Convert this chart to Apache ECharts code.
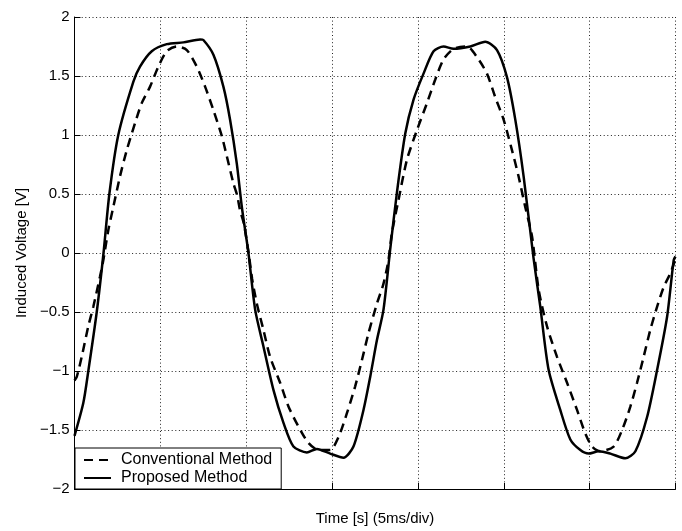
<!DOCTYPE html>
<html>
<head>
<meta charset="utf-8">
<script src="https://cdn.jsdelivr.net/npm/echarts@6/dist/echarts.min.js"></script>
<style>
html,body{margin:0;padding:0;background:#fff;}
#chart{width:682px;height:531px;}
</style>
</head>
<body>
<div id="chart"></div>
<script>
// Time in divisions (5 ms/div), voltage in V
var proposedTime = [0, 0.103, 0.161, 0.259, 0.338, 0.406, 0.510, 0.685, 0.763, 0.900, 1.075, 1.268, 1.463, 1.501, 1.618, 1.734, 1.812, 1.890, 1.949, 2.026, 2.104, 2.200, 2.317, 2.434, 2.550, 2.706, 2.823, 2.978, 3.133, 3.249, 3.366, 3.444, 3.522, 3.599, 3.677, 3.755, 3.852, 3.949, 4.065, 4.182, 4.298, 4.415, 4.610, 4.784, 4.921, 5.037, 5.134, 5.231, 5.347, 5.425, 5.522, 5.658, 5.775, 5.892, 5.988, 6.105, 6.241, 6.416, 6.533, 6.669, 6.786, 6.902, 6.979, 7.0];
var proposedVolt = [-1.55, -1.27, -1.0, -0.5, 0, 0.5, 1.0, 1.45, 1.58, 1.71, 1.77, 1.785, 1.81, 1.805, 1.68, 1.41, 1.13, 0.76, 0.39, 0, -0.48, -0.79, -1.16, -1.44, -1.64, -1.69, -1.66, -1.70, -1.735, -1.64, -1.33, -1.05, -0.74, -0.48, 0.03, 0.51, 1.01, 1.30, 1.52, 1.71, 1.75, 1.73, 1.75, 1.79, 1.72, 1.49, 1.13, 0.65, -0.045, -0.455, -0.99, -1.33, -1.58, -1.67, -1.70, -1.68, -1.70, -1.74, -1.68, -1.39, -0.99, -0.54, -0.06, -0.03];

var conventionalTime = [0, 0.026, 0.084, 0.161, 0.219, 0.297, 0.336, 0.394, 0.452, 0.530, 0.608, 0.705, 0.783, 0.880, 0.977, 1.075, 1.191, 1.308, 1.424, 1.521, 1.618, 1.716, 1.774, 1.851, 1.894, 1.929, 1.972, 2.028, 2.069, 2.124, 2.200, 2.278, 2.395, 2.492, 2.608, 2.725, 2.841, 2.978, 3.075, 3.172, 3.269, 3.347, 3.424, 3.522, 3.599, 3.657, 3.697, 3.774, 3.872, 3.988, 4.105, 4.202, 4.298, 4.415, 4.571, 4.688, 4.804, 4.901, 4.998, 5.096, 5.172, 5.250, 5.329, 5.406, 5.503, 5.620, 5.737, 5.853, 5.950, 6.028, 6.125, 6.280, 6.378, 6.475, 6.552, 6.629, 6.707, 6.786, 6.862, 6.941, 7.0];
var conventionalVolt = [-1.08, -1.05, -0.88, -0.62, -0.455, -0.2, -0.06, 0.195, 0.39, 0.65, 0.87, 1.10, 1.27, 1.41, 1.58, 1.71, 1.75, 1.72, 1.58, 1.41, 1.21, 0.99, 0.82, 0.59, 0.49, 0.36, 0.25, 0, -0.22, -0.43, -0.65, -0.88, -1.10, -1.30, -1.47, -1.61, -1.67, -1.67, -1.56, -1.36, -1.13, -0.91, -0.68, -0.43, -0.26, -0.06, 0.17, 0.45, 0.79, 1.04, 1.27, 1.47, 1.64, 1.73, 1.75, 1.66, 1.52, 1.32, 1.13, 0.87, 0.65, 0.39, 0.14, -0.31, -0.62, -0.88, -1.10, -1.33, -1.53, -1.64, -1.68, -1.64, -1.50, -1.30, -1.10, -0.88, -0.65, -0.455, -0.29, -0.17, -0.05];

var seriesNames = ['Conventional Method', 'Proposed Method'];
var xAxisTitle = 'Time [s] (5ms/div)';
var yAxisTitle = 'Induced Voltage [V]';

function zip(a, b) { return a.map(function (v, i) { return [v, b[i]]; }); }

var font = 'Liberation Sans, Arial, Helvetica, sans-serif';
var chart = echarts.init(document.getElementById('chart'), null, { renderer: 'canvas' });
chart.setOption({
  animation: false,
  backgroundColor: '#fff',
  grid: { left: 74.5, right: 6.5, top: 17, bottom: 42, containLabel: false },
  xAxis: {
    type: 'value', min: 0, max: 7, interval: 1,
    name: xAxisTitle, nameLocation: 'middle', nameGap: 22,
    nameTextStyle: { fontFamily: font, fontSize: 15, color: '#000' },
    axisLine: { show: true, onZero: false, lineStyle: { color: '#000', width: 1 } },
    axisTick: { show: true, inside: true, length: 6, lineStyle: { color: '#000' } },
    axisLabel: { show: false },
    splitLine: { show: true, lineStyle: { color: '#222', width: 1, type: [1, 2.6] } }
  },
  yAxis: {
    type: 'value', min: -2, max: 2, interval: 0.5,
    name: yAxisTitle, nameLocation: 'middle', nameGap: 40, nameRotate: 90,
    nameTextStyle: { fontFamily: font, fontSize: 15, color: '#000' },
    axisLine: { show: true, onZero: false, lineStyle: { color: '#000', width: 1 } },
    axisTick: { show: true, inside: true, length: 6, lineStyle: { color: '#000' } },
    axisLabel: {
      fontFamily: font, fontSize: 15, color: '#000', margin: 5,
      formatter: function (v) { return String(v).replace('-', '\u2212'); }
    },
    splitLine: { show: true, lineStyle: { color: '#222', width: 1, type: [1, 2.6] } }
  },
  legend: {
    orient: 'vertical', left: 75, bottom: 42,
    data: seriesNames,
    backgroundColor: '#fff', borderColor: '#000', borderWidth: 1, borderRadius: 0,
    padding: [3, 9, 2, 8], itemGap: 0, itemWidth: 27, itemHeight: 18,
    itemStyle: { opacity: 0, borderWidth: 0 },
    textStyle: { fontFamily: font, fontSize: 16, color: '#000', lineHeight: 18, padding: [0, 0, 0, 5] }
  },
  series: [
    {
      name: seriesNames[0], type: 'line', data: zip(conventionalTime, conventionalVolt),
      symbol: 'none', smooth: 0.25, z: 3,
      lineStyle: { color: '#000', width: 2.5, type: [9, 6] },
      itemStyle: { color: '#000' }
    },
    {
      name: seriesNames[1], type: 'line', data: zip(proposedTime, proposedVolt),
      symbol: 'none', smooth: 0.25, z: 4,
      lineStyle: { color: '#000', width: 2.5, type: 'solid' },
      itemStyle: { color: '#000' }
    }
  ]
});
</script>
</body>
</html>
